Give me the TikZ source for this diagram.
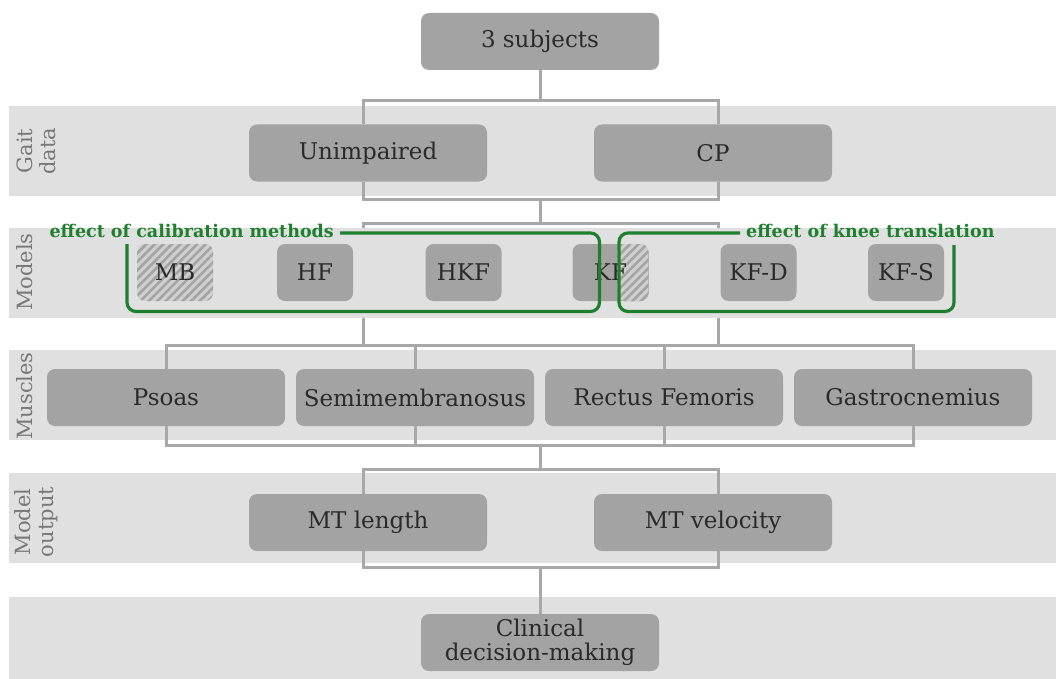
\documentclass[tikz,border=0pt]{standalone}
\usepackage{fontspec}
\setmainfont{DejaVu Serif}
\usetikzlibrary{patterns.meta}
\definecolor{band}{HTML}{E0E0E0}
\definecolor{boxg}{HTML}{A3A3A3}
\definecolor{lineg}{HTML}{A8A8A8}
\definecolor{hatchbg}{HTML}{CFCFCF}
\definecolor{txt}{HTML}{2A2A2A}
\definecolor{side}{HTML}{777777}
\definecolor{grn}{HTML}{1E7F2E}
\tikzset{
 box/.style={fill=boxg, rounded corners=8pt, inner sep=0pt, text=txt, font=\fontsize{23}{24.5}\selectfont, align=center},
 wbox/.style={box, minimum width=238pt, minimum height=57pt},
 sbox/.style={box, minimum width=76pt, minimum height=57pt},
 conn/.style={draw=lineg, line width=3pt},
 sidelab/.style={rotate=90, text=side, font=\fontsize{21}{23}\selectfont, align=center, inner sep=0pt},
 glab/.style={text=grn, font=\bfseries\fontsize{17.5}{19}\selectfont, inner sep=0pt},
 bracket/.style={draw=grn, line width=3.2pt, rounded corners=9pt},
 hatch/.style={pattern={Lines[angle=45,distance=6pt,line width=2.6pt]}, pattern color=boxg},
}
\begin{document}
\begin{tikzpicture}[x=1pt,y=-1pt]
\useasboundingbox (0,0) rectangle (1056,679);
% bands
\fill[band] (9,106) rectangle (1056,196);
\fill[band] (9,228) rectangle (1056,318);
\fill[band] (9,350) rectangle (1056,440);
\fill[band] (9,473) rectangle (1056,563);
\fill[band] (9,597) rectangle (1056,679);
% side labels
\node[sidelab] (lgait) at (36,151) {Gait\\data};
\node[sidelab] (lmod) at (25,272) {Models};
\node[sidelab] (lmus) at (25,396) {Muscles};
\node[sidelab] (lout) at (36,522) {Model\\output};
% coordinates
\coordinate (ga) at (540,199.5);
\coordinate (gb) at (540,223.5);
\coordinate (ml) at (363,228);
\coordinate (mr) at (718,228);
\coordinate (mlb) at (363,318);
\coordinate (mrb) at (718,318);
\coordinate (mua) at (540,445);
\coordinate (mub) at (540,470);
\coordinate (oa) at (540,567.5);
% nodes
\node[wbox] (subj) at (540,41.5) {3 subjects};
\node[wbox] (unimp) at (368,153) {Unimpaired};
\node[wbox] (cp) at (713,153) {CP};
\node[sbox, fill=hatchbg, postaction={hatch}] (mb) at (175,272.5) {MB};
\node[sbox] (hf) at (315,272.5) {HF};
\node[sbox] (hkf) at (463.5,272.5) {HKF};
\node[sbox, path picture={
   \fill[hatchbg] ([xshift=6.5pt]path picture bounding box.south) rectangle (path picture bounding box.north east);
   \fill[hatch] ([xshift=6.5pt]path picture bounding box.south) rectangle (path picture bounding box.north east);}] (kf) at (610.5,272.5) {KF};
\node[sbox] (kfd) at (758.5,272.5) {KF-D};
\node[sbox] (kfs) at (906,272.5) {KF-S};
\node[wbox] (psoas) at (166,397.5) {Psoas};
\node[wbox] (semi) at (415,397.5) {Semimembranosus};
\node[wbox] (rect) at (664,397.5) {Rectus Femoris};
\node[wbox] (gastro) at (913,397.5) {Gastrocnemius};
\node[wbox] (mtl) at (368,522.5) {MT length};
\node[wbox] (mtv) at (713,522.5) {MT velocity};
\node[wbox] (clin) at (540,642.5) {Clinical\\decision-making};
% connectors
\draw[conn] (subj.south) -- ++(0,30);
\draw[conn] ([xshift=-5pt]unimp.north) -- ++(0,-24) -| ([xshift=5pt]cp.north);
\draw[conn] ([xshift=-5pt]unimp.south) -- ++(0,18) -| ([xshift=5pt]cp.south);
\draw[conn] (ga) -- (gb);
\draw[conn] (ml) -- (ml |- gb) -- (mr |- gb) -- (mr);
\draw[conn] (mlb) -- ++(0,28);
\draw[conn] (mrb) -- ++(0,28);
\draw[conn] (psoas.north) -- ++(0,-23) -| (gastro.north);
\draw[conn] (semi.north) -- ++(0,-23);
\draw[conn] (rect.north) -- ++(0,-23);
\draw[conn] (psoas.south) -- ++(0,19) -| (gastro.south);
\draw[conn] (semi.south) -- ++(0,19);
\draw[conn] (rect.south) -- ++(0,19);
\draw[conn] (mua) -- (mub);
\draw[conn] ([xshift=-5pt]mtl.north) -- ++(0,-24) -| ([xshift=5pt]mtv.north);
\draw[conn] ([xshift=-5pt]mtl.south) -- ++(0,16.5) -| ([xshift=5pt]mtv.south);
\draw[conn] (oa) -- (clin.north);
% green brackets
\node[glab, anchor=base east] (calib) at (334,237.5) {effect of calibration methods};
\node[glab, anchor=base west] (knee) at (746,237.5) {effect of knee translation};
\draw[bracket] (127,244) -- (127,311.5) -- (599.5,311.5) -- (599.5,233) -- ([xshift=6pt]calib.east |- 0,233);
\draw[bracket] ([xshift=-6pt]knee.west |- 0,233) -- (619,233) -- (619,311.5) -- (954,311.5) -- (954,245);
\end{tikzpicture}
\end{document}
